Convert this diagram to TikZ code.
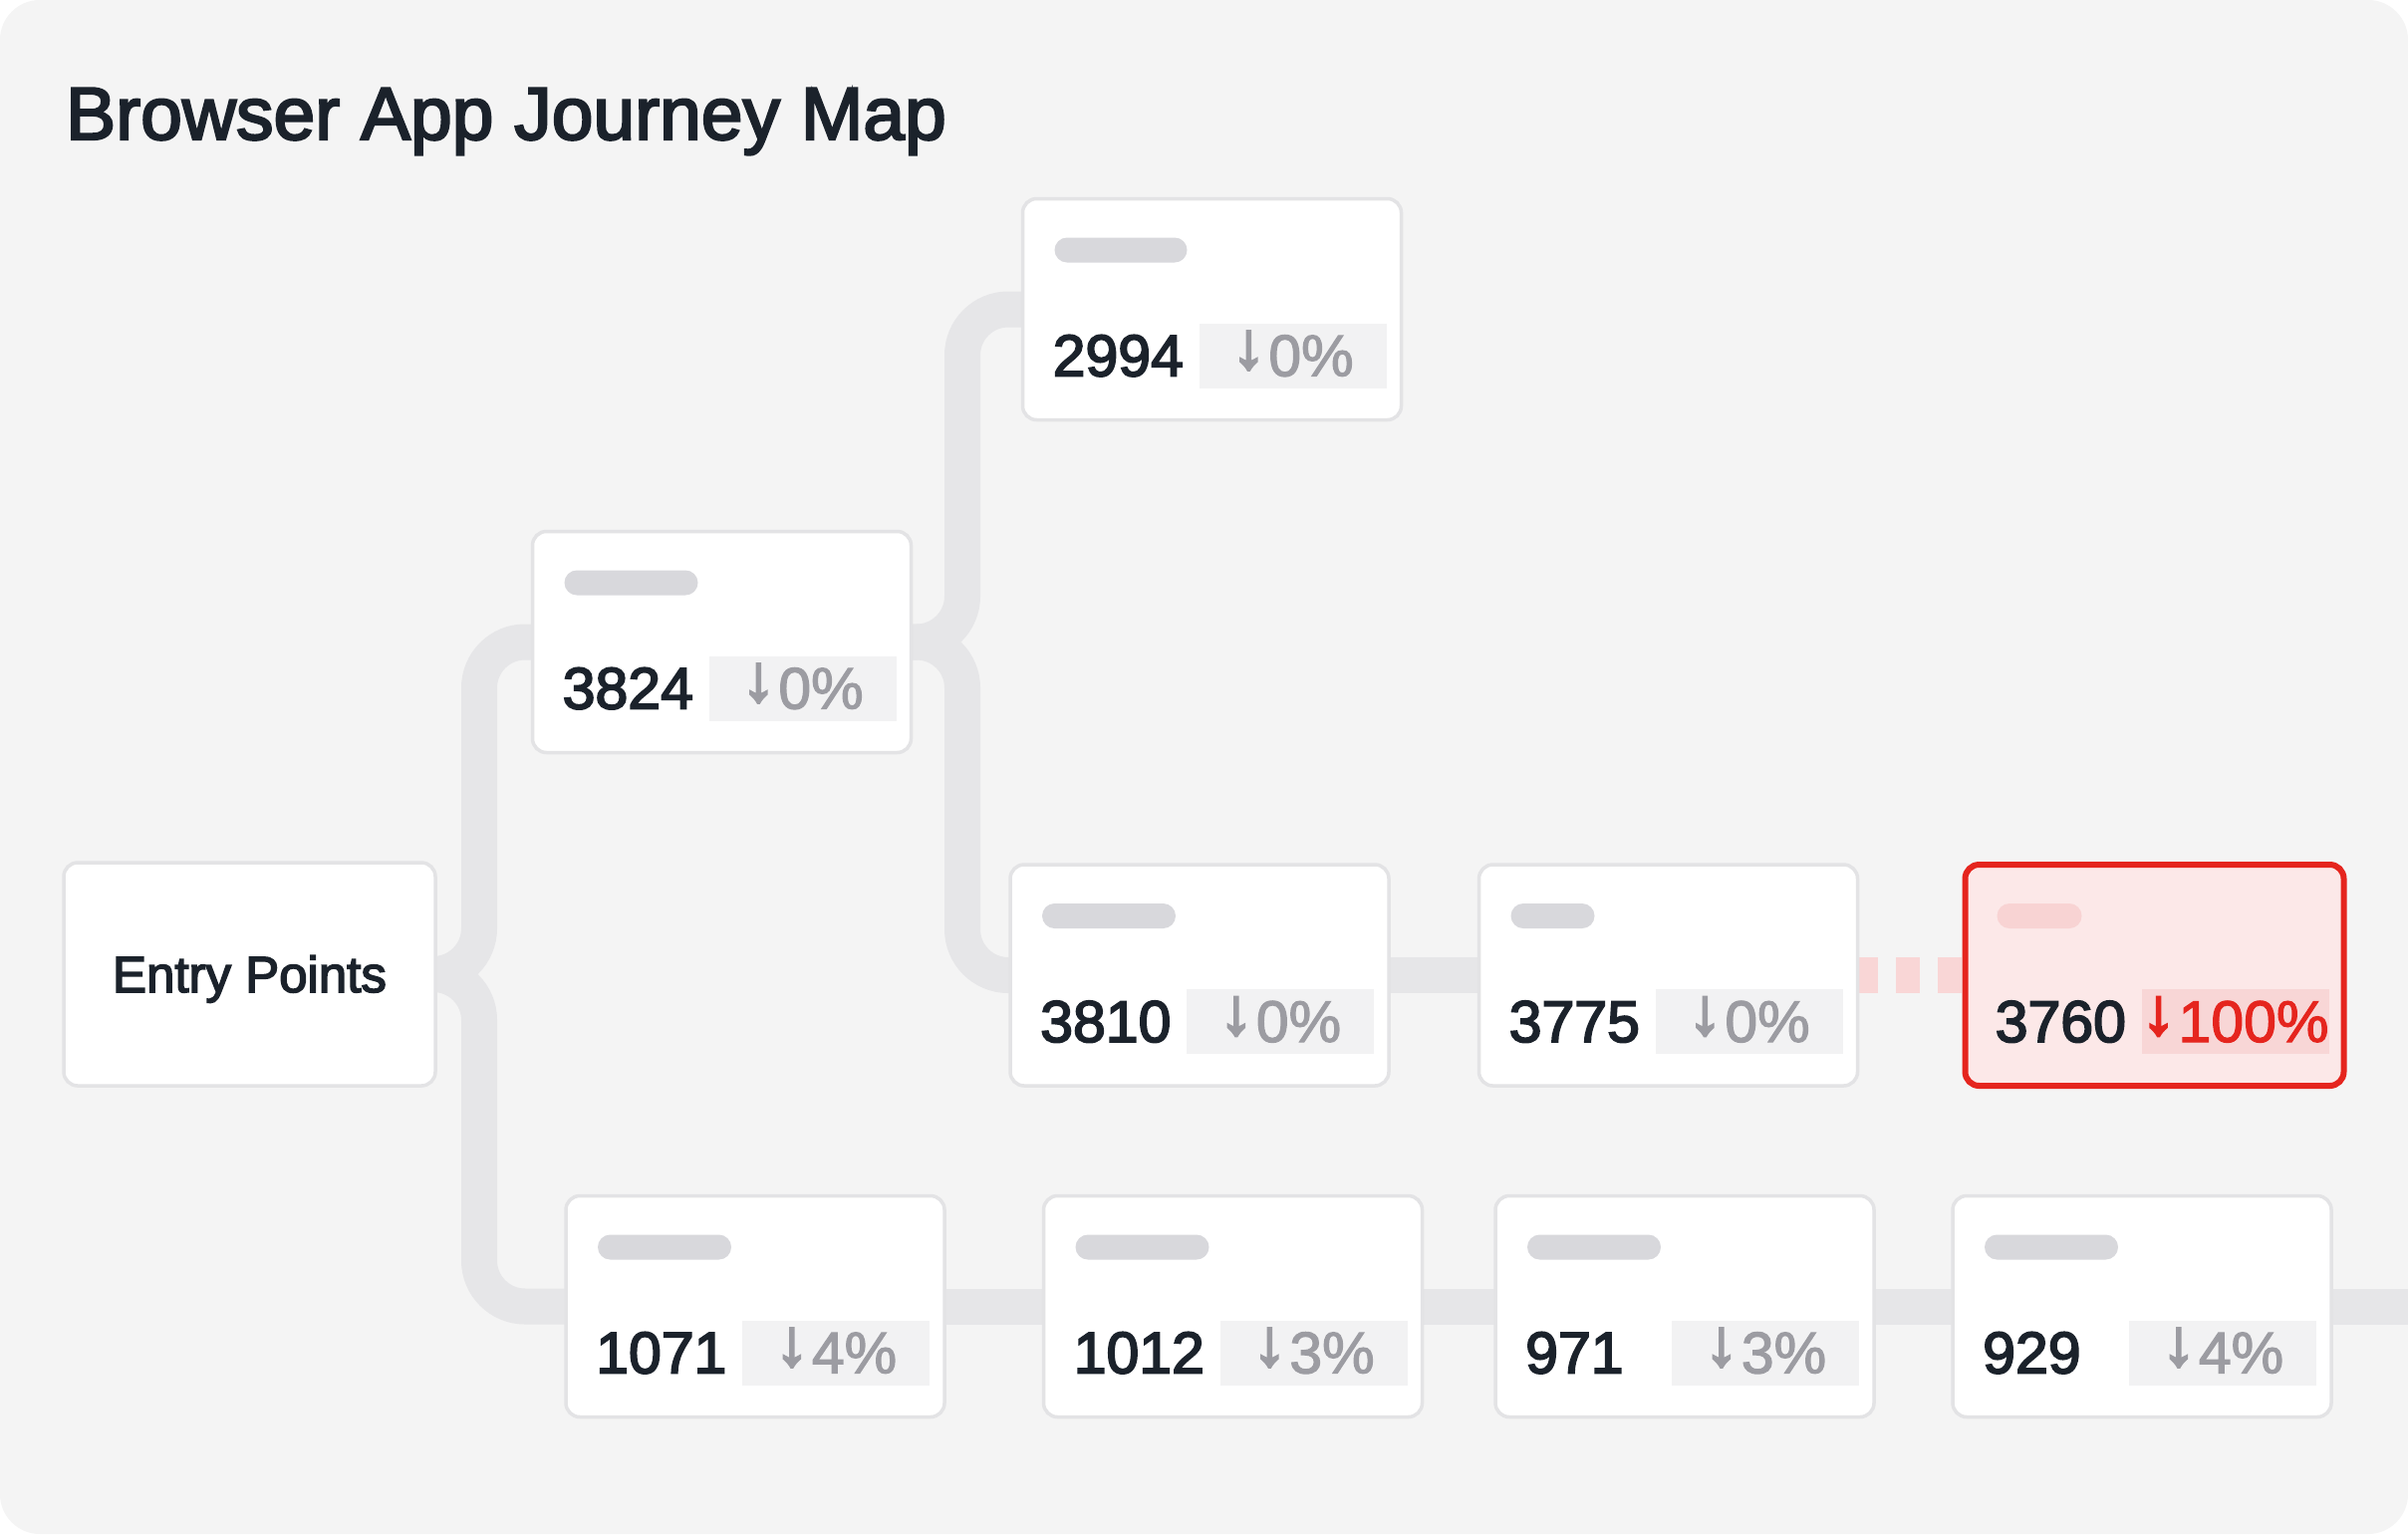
\documentclass[tikz,border=0pt]{standalone}
\usepackage{fontspec}
\setmainfont{Liberation Sans}
\newfontfamily\medfont{Liberation Sans}[FakeBold=3]
\newfontfamily\pctfont{Liberation Sans}[FakeBold=2]
\newfontfamily\arrfont{Liberation Sans}[FakeBold=4]
\definecolor{bgGray}{HTML}{F4F4F4}
\definecolor{lineGray}{HTML}{E6E6E8}
\definecolor{cardBorder}{HTML}{E3E3E5}
\definecolor{pillGray}{HTML}{D8D8DC}
\definecolor{badgeGray}{HTML}{F2F2F3}
\definecolor{ink}{HTML}{1B222B}
\definecolor{pctGray}{HTML}{9C9CA2}
\definecolor{alertRed}{HTML}{E5251E}
\definecolor{alertFill}{HTML}{FCE8E8}
\definecolor{alertPill}{HTML}{F8D3D3}
\definecolor{alertBadge}{HTML}{F8D6D6}
\definecolor{alertLine}{HTML}{F9D6D6}
\pgfdeclarelayer{bglayer}
\pgfdeclarelayer{lines}
\pgfsetlayers{bglayer,lines,main}
\newcommand\downarr{\raisebox{8pt}{\scalebox{1.15}[1.12]{\arrfont ↓}}\kern3pt}
\tikzset{
  cardn/.style={rectangle, rounded corners=14pt, draw=cardBorder, line width=3.5pt, fill=white, minimum width=380pt, minimum height=222pt, inner sep=0pt, outer sep=0pt},
  cardr/.style={rectangle, rounded corners=14pt, draw=alertRed, line width=6pt, fill=alertFill, minimum width=380pt, minimum height=222pt, inner sep=0pt, outer sep=0pt},
  pilln/.style={rectangle, rounded corners=12.5pt, fill=pillGray, minimum height=25pt, inner sep=0pt, outer sep=0pt},
  pillr/.style={pilln, fill=alertPill},
  badgen/.style={rectangle, fill=badgeGray, minimum width=188pt, minimum height=65pt, inner sep=0pt, outer sep=0pt},
  badger/.style={badgen, fill=alertBadge},
  numtext/.style={inner sep=0pt, text=ink, font=\medfont\fontsize{59}{64}\selectfont},
  pctn/.style={inner sep=0pt, text=pctGray, font=\pctfont\fontsize{59}{64}\selectfont},
  pctr/.style={pctn, text=alertRed},
  conn/.style={line width=36pt, draw=lineGray, rounded corners=46pt},
  dropconn/.style={line width=36pt, draw=alertLine, dash pattern=on 24pt off 18pt, dash phase=23.5pt},
}
% #1 name, #2 cx, #3 cy, #4 number, #5 pct, #6 pill width, #7 variant (n/r)
\newcommand\mycard[7]{%
  \node[card#7] (#1) at (#2,#3) {};
  \node[pill#7, minimum width=#6pt, anchor=north west] (#1-tag) at ([shift={(32,39)}]#1.north west) {};
  \node[badge#7, anchor=north east] (#1-badge) at ([shift={(-15,125)}]#1.north east) {};
  \node[numtext, anchor=base west] (#1-num) at ([shift={(30,178)}]#1.north west) {#4};
  \node[pct#7, anchor=base] (#1-pct) at ([shift={(-109,178)}]#1.north east) {\downarr#5};
}
\begin{document}
\begin{tikzpicture}[x=1pt,y=-1pt]
\useasboundingbox (0,0) rectangle (2417,1540);
\begin{pgfonlayer}{bglayer}
\fill[white] (0,0) rectangle (2417,1540);
\fill[bgGray, rounded corners=40pt] (0,0) rectangle (2417,1540);
\end{pgfonlayer}

\node[cardn, minimum width=373pt, minimum height=224pt, text=ink,
      font=\medfont\fontsize{51}{56}\selectfont, text height=36pt, text depth=0pt]
      (entry) at (250.5,978) {Entry Points};

\mycard{n3824}{724.5}{644.5}{3824}{0\%}{134}{n}
\mycard{n2994}{1216.5}{310.5}{2994}{0\%}{133}{n}
\mycard{n3810}{1204}{979}{3810}{0\%}{134}{n}
\mycard{n3775}{1674.5}{979}{3775}{0\%}{84}{n}
\mycard{n3760}{2162.5}{979}{3760}{100\%}{85}{r}
\mycard{n1071}{758}{1311.5}{1071}{4\%}{134}{n}
\mycard{n1012}{1237.5}{1311.5}{1012}{3\%}{134}{n}
\mycard{n971}{1691}{1311.5}{971}{3\%}{134}{n}
\mycard{n929}{2150}{1311.5}{929}{4\%}{134}{n}

\coordinate (tA) at (481,978);
\coordinate (tB) at (966,644.5);
\coordinate (exitR) at (2417,1311.5);

\begin{pgfonlayer}{lines}
\draw[conn] (entry.center) -- (tA) |- (n3824.center);
\draw[conn] (entry.center) -- (tA) |- (n1071.center);
\draw[conn] (n3824.center) -- (tB) |- (n2994.center);
\draw[conn] (n3824.center) -- (tB) |- (n3810.center);
\draw[conn] (n3810.center) -- (n3775.center);
\draw[dropconn] (n3775.center) -- (n3760.center);
\draw[conn] (n1071.center) -- (exitR);
\end{pgfonlayer}

\node[anchor=base west, inner sep=0pt, text=ink, font=\medfont\fontsize{75}{80}\selectfont]
  (title) at (66,140) {Browser App Journey Map};
\end{tikzpicture}
\end{document}
